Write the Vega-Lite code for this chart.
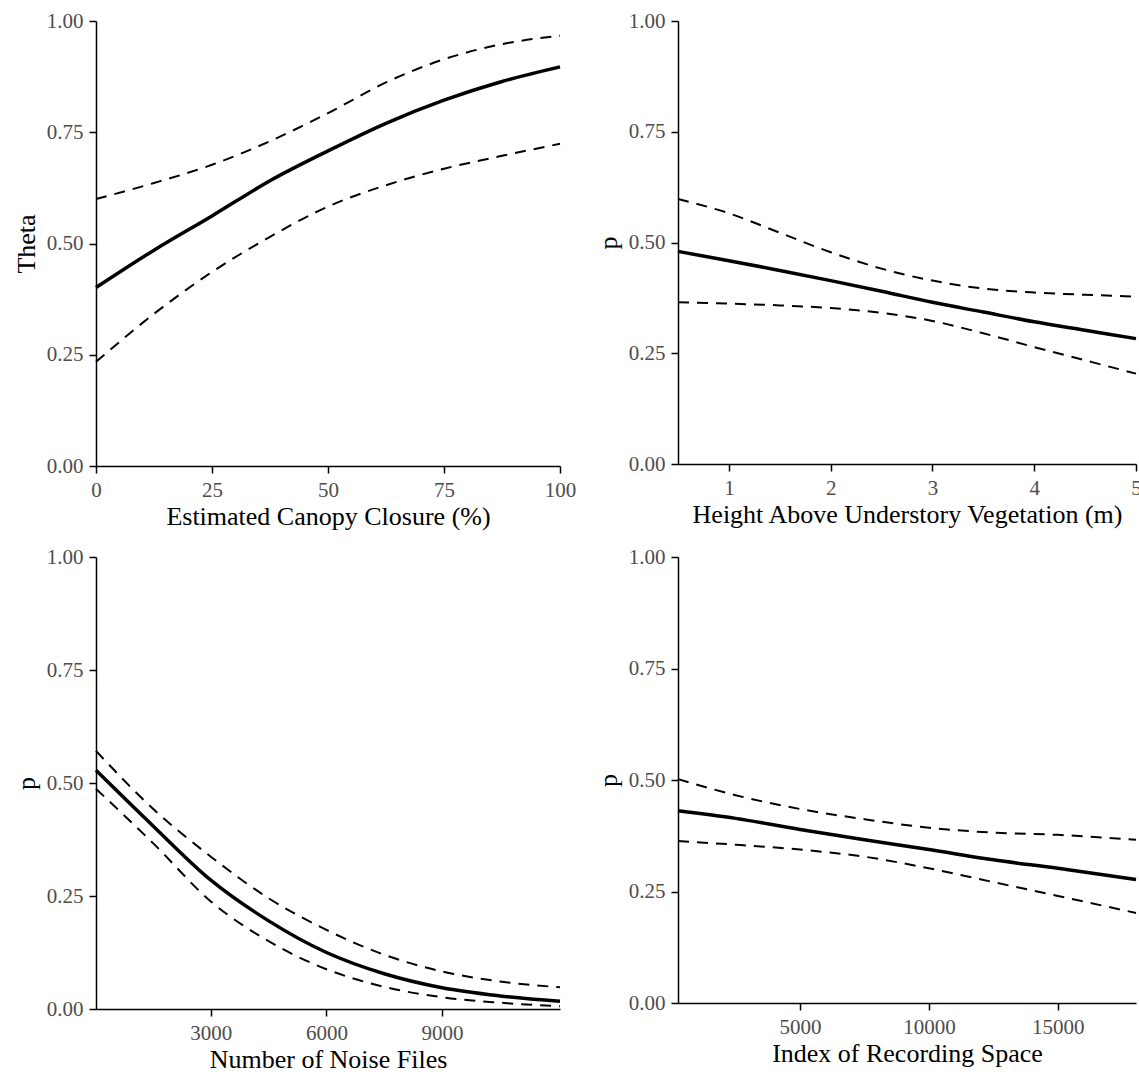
{
  "$schema": "https://vega.github.io/schema/vega-lite/v6.json",
  "padding": {"left": 13, "top": 10, "right": 0, "bottom": 0},
  "background": "white",
  "config": {
    "font": "Liberation Serif",
    "view": {"stroke": null},
    "axis": {
      "grid": false,
      "domainColor": "black",
      "domainWidth": 1.5,
      "tickColor": "black",
      "tickWidth": 1.5,
      "tickSize": 7,
      "labelFont": "Liberation Serif",
      "labelFontSize": 21,
      "labelColor": "#4d4d4d",
      "labelPadding": 6,
      "labelFlush": false,
      "labelOverlap": false,
      "titleFont": "Liberation Serif",
      "titleFontSize": 26,
      "titleFontWeight": "normal",
      "titleColor": "black"
    },
    "axisX": {"titlePadding": 3},
    "axisY": {"titlePadding": 7},
    "line": {"color": "black"}
  },
  "datasets": {
    "A": [
      {"x": 0, "y": 0.401, "band": "fit"}, {"x": 12.5, "y": 0.485, "band": "fit"}, {"x": 25, "y": 0.562, "band": "fit"}, {"x": 37.5, "y": 0.641, "band": "fit"}, {"x": 50, "y": 0.708, "band": "fit"}, {"x": 62.5, "y": 0.770, "band": "fit"}, {"x": 75, "y": 0.822, "band": "fit"}, {"x": 87.5, "y": 0.864, "band": "fit"}, {"x": 100, "y": 0.897, "band": "fit"},
      {"x": 0, "y": 0.600, "band": "upper"}, {"x": 12.5, "y": 0.636, "band": "upper"}, {"x": 25, "y": 0.677, "band": "upper"}, {"x": 37.5, "y": 0.730, "band": "upper"}, {"x": 50, "y": 0.793, "band": "upper"}, {"x": 62.5, "y": 0.862, "band": "upper"}, {"x": 75, "y": 0.914, "band": "upper"}, {"x": 87.5, "y": 0.948, "band": "upper"}, {"x": 100, "y": 0.967, "band": "upper"},
      {"x": 0, "y": 0.234, "band": "lower"}, {"x": 12.5, "y": 0.342, "band": "lower"}, {"x": 25, "y": 0.436, "band": "lower"}, {"x": 37.5, "y": 0.515, "band": "lower"}, {"x": 50, "y": 0.583, "band": "lower"}, {"x": 62.5, "y": 0.631, "band": "lower"}, {"x": 75, "y": 0.668, "band": "lower"}, {"x": 87.5, "y": 0.697, "band": "lower"}, {"x": 100, "y": 0.724, "band": "lower"}
    ],
    "B": [
      {"x": 0.5, "y": 0.480, "band": "fit"}, {"x": 1.0, "y": 0.459, "band": "fit"}, {"x": 1.5, "y": 0.437, "band": "fit"}, {"x": 2.0, "y": 0.414, "band": "fit"}, {"x": 2.5, "y": 0.390, "band": "fit"}, {"x": 3.0, "y": 0.365, "band": "fit"}, {"x": 3.5, "y": 0.343, "band": "fit"}, {"x": 4.0, "y": 0.321, "band": "fit"}, {"x": 4.5, "y": 0.302, "band": "fit"}, {"x": 5.0, "y": 0.283, "band": "fit"},
      {"x": 0.5, "y": 0.598, "band": "upper"}, {"x": 1.0, "y": 0.566, "band": "upper"}, {"x": 1.5, "y": 0.522, "band": "upper"}, {"x": 2.0, "y": 0.478, "band": "upper"}, {"x": 2.5, "y": 0.441, "band": "upper"}, {"x": 3.0, "y": 0.414, "band": "upper"}, {"x": 3.5, "y": 0.396, "band": "upper"}, {"x": 4.0, "y": 0.387, "band": "upper"}, {"x": 4.5, "y": 0.382, "band": "upper"}, {"x": 5.0, "y": 0.378, "band": "upper"},
      {"x": 0.5, "y": 0.365, "band": "lower"}, {"x": 1.0, "y": 0.362, "band": "lower"}, {"x": 1.5, "y": 0.358, "band": "lower"}, {"x": 2.0, "y": 0.352, "band": "lower"}, {"x": 2.5, "y": 0.341, "band": "lower"}, {"x": 3.0, "y": 0.323, "band": "lower"}, {"x": 3.5, "y": 0.295, "band": "lower"}, {"x": 4.0, "y": 0.264, "band": "lower"}, {"x": 4.5, "y": 0.234, "band": "lower"}, {"x": 5.0, "y": 0.204, "band": "lower"}
    ],
    "C": [
      {"x": 20, "y": 0.528, "band": "fit"}, {"x": 1500, "y": 0.405, "band": "fit"}, {"x": 3000, "y": 0.285, "band": "fit"}, {"x": 4500, "y": 0.195, "band": "fit"}, {"x": 6000, "y": 0.125, "band": "fit"}, {"x": 7500, "y": 0.078, "band": "fit"}, {"x": 9000, "y": 0.047, "band": "fit"}, {"x": 10500, "y": 0.029, "band": "fit"}, {"x": 12060, "y": 0.017, "band": "fit"},
      {"x": 20, "y": 0.571, "band": "upper"}, {"x": 1500, "y": 0.443, "band": "upper"}, {"x": 3000, "y": 0.337, "band": "upper"}, {"x": 4500, "y": 0.245, "band": "upper"}, {"x": 6000, "y": 0.175, "band": "upper"}, {"x": 7500, "y": 0.120, "band": "upper"}, {"x": 9000, "y": 0.083, "band": "upper"}, {"x": 10500, "y": 0.061, "band": "upper"}, {"x": 12060, "y": 0.048, "band": "upper"},
      {"x": 20, "y": 0.487, "band": "lower"}, {"x": 1500, "y": 0.367, "band": "lower"}, {"x": 3000, "y": 0.238, "band": "lower"}, {"x": 4500, "y": 0.150, "band": "lower"}, {"x": 6000, "y": 0.088, "band": "lower"}, {"x": 7500, "y": 0.049, "band": "lower"}, {"x": 9000, "y": 0.026, "band": "lower"}, {"x": 10500, "y": 0.014, "band": "lower"}, {"x": 12060, "y": 0.006, "band": "lower"}
    ],
    "D": [
      {"x": 270, "y": 0.431, "band": "fit"}, {"x": 2500, "y": 0.414, "band": "fit"}, {"x": 5000, "y": 0.389, "band": "fit"}, {"x": 7500, "y": 0.366, "band": "fit"}, {"x": 10000, "y": 0.344, "band": "fit"}, {"x": 12500, "y": 0.321, "band": "fit"}, {"x": 15000, "y": 0.302, "band": "fit"}, {"x": 18030, "y": 0.277, "band": "fit"},
      {"x": 270, "y": 0.502, "band": "upper"}, {"x": 2500, "y": 0.466, "band": "upper"}, {"x": 5000, "y": 0.435, "band": "upper"}, {"x": 7500, "y": 0.412, "band": "upper"}, {"x": 10000, "y": 0.393, "band": "upper"}, {"x": 12500, "y": 0.382, "band": "upper"}, {"x": 15000, "y": 0.377, "band": "upper"}, {"x": 18030, "y": 0.366, "band": "upper"},
      {"x": 270, "y": 0.363, "band": "lower"}, {"x": 2500, "y": 0.355, "band": "lower"}, {"x": 5000, "y": 0.344, "band": "lower"}, {"x": 7500, "y": 0.328, "band": "lower"}, {"x": 10000, "y": 0.302, "band": "lower"}, {"x": 12500, "y": 0.271, "band": "lower"}, {"x": 15000, "y": 0.240, "band": "lower"}, {"x": 18030, "y": 0.202, "band": "lower"}
    ]
  },
  "columns": 2,
  "bounds": "flush",
  "spacing": {"row": 91, "column": 118},
  "concat": [
    {
      "width": 464, "height": 445,
      "data": {"name": "A"},
      "encoding": {
        "x": {"field": "x", "type": "quantitative", "scale": {"domain": [0, 100], "nice": false, "zero": false}, "axis": {"values": [0, 25, 50, 75, 100], "title": "Estimated Canopy Closure (%)"}},
        "y": {"field": "y", "type": "quantitative", "scale": {"domain": [0, 1], "nice": false}, "axis": {"values": [0, 0.25, 0.5, 0.75, 1], "format": ".2f", "title": "Theta"}}
      },
      "layer": [
        {"transform": [{"filter": "datum.band != 'fit'"}], "mark": {"type": "line", "interpolate": "monotone", "strokeDash": [11, 8], "strokeWidth": 2, "color": "black"}, "encoding": {"detail": {"field": "band"}}},
        {"transform": [{"filter": "datum.band == 'fit'"}], "mark": {"type": "line", "interpolate": "monotone", "strokeWidth": 3.5, "color": "black"}, "encoding": {}}
      ]
    },
    {
      "width": 458, "height": 443,
      "data": {"name": "B"},
      "encoding": {
        "x": {"field": "x", "type": "quantitative", "scale": {"domain": [0.5, 5], "nice": false, "zero": false}, "axis": {"values": [1, 2, 3, 4, 5], "title": "Height Above Understory Vegetation (m)"}},
        "y": {"field": "y", "type": "quantitative", "scale": {"domain": [0, 1], "nice": false}, "axis": {"values": [0, 0.25, 0.5, 0.75, 1], "format": ".2f", "title": "p"}}
      },
      "layer": [
        {"transform": [{"filter": "datum.band != 'fit'"}], "mark": {"type": "line", "interpolate": "monotone", "strokeDash": [11, 8], "strokeWidth": 2, "color": "black"}, "encoding": {"detail": {"field": "band"}}},
        {"transform": [{"filter": "datum.band == 'fit'"}], "mark": {"type": "line", "interpolate": "monotone", "strokeWidth": 3.5, "color": "black"}, "encoding": {}}
      ]
    },
    {
      "width": 464, "height": 452,
      "data": {"name": "C"},
      "encoding": {
        "x": {"field": "x", "type": "quantitative", "scale": {"domain": [20, 12060], "nice": false, "zero": false}, "axis": {"values": [3000, 6000, 9000], "format": "d", "title": "Number of Noise Files"}},
        "y": {"field": "y", "type": "quantitative", "scale": {"domain": [0, 1], "nice": false}, "axis": {"values": [0, 0.25, 0.5, 0.75, 1], "format": ".2f", "title": "p"}}
      },
      "layer": [
        {"transform": [{"filter": "datum.band != 'fit'"}], "mark": {"type": "line", "interpolate": "monotone", "strokeDash": [11, 8], "strokeWidth": 2, "color": "black"}, "encoding": {"detail": {"field": "band"}}},
        {"transform": [{"filter": "datum.band == 'fit'"}], "mark": {"type": "line", "interpolate": "monotone", "strokeWidth": 3.5, "color": "black"}, "encoding": {}}
      ]
    },
    {
      "width": 458, "height": 446,
      "data": {"name": "D"},
      "encoding": {
        "x": {"field": "x", "type": "quantitative", "scale": {"domain": [270, 18030], "nice": false, "zero": false}, "axis": {"values": [5000, 10000, 15000], "format": "d", "title": "Index of Recording Space"}},
        "y": {"field": "y", "type": "quantitative", "scale": {"domain": [0, 1], "nice": false}, "axis": {"values": [0, 0.25, 0.5, 0.75, 1], "format": ".2f", "title": "p"}}
      },
      "layer": [
        {"transform": [{"filter": "datum.band != 'fit'"}], "mark": {"type": "line", "interpolate": "monotone", "strokeDash": [11, 8], "strokeWidth": 2, "color": "black"}, "encoding": {"detail": {"field": "band"}}},
        {"transform": [{"filter": "datum.band == 'fit'"}], "mark": {"type": "line", "interpolate": "monotone", "strokeWidth": 3.5, "color": "black"}, "encoding": {}}
      ]
    }
  ]
}
